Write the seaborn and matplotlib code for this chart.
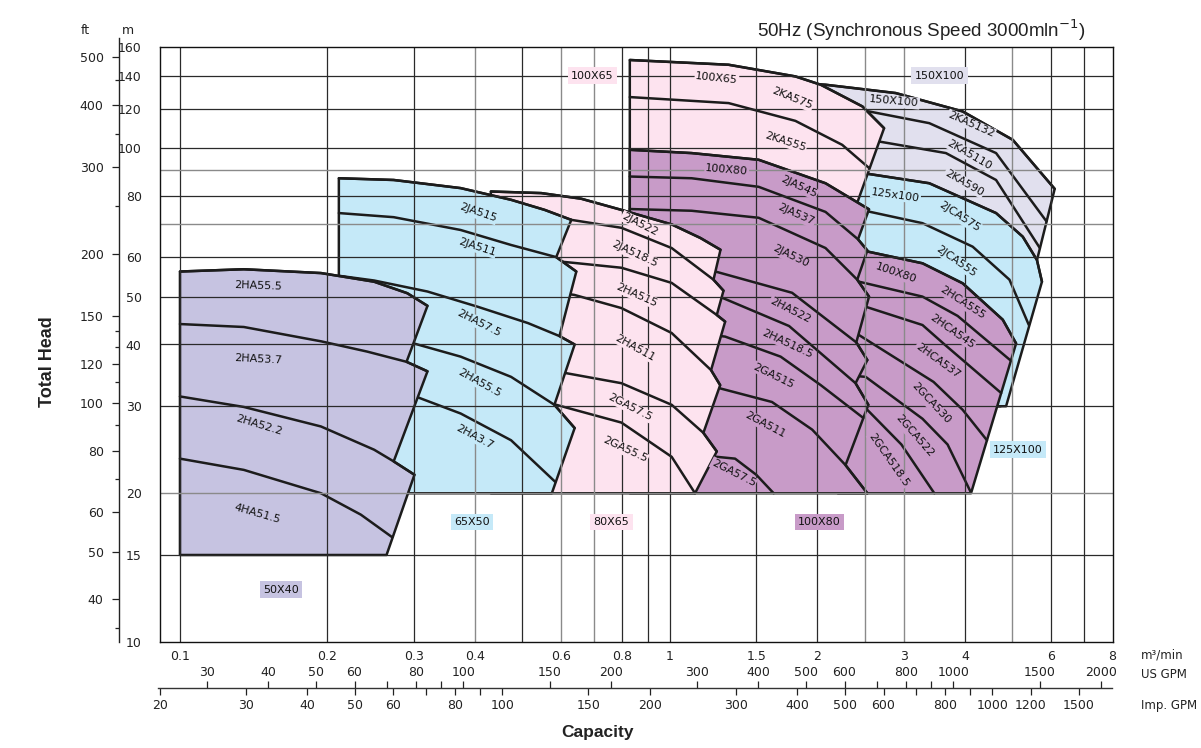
import matplotlib
matplotlib.use("Agg")
import matplotlib.pyplot as plt
import pandas as pd
import seaborn as sns
from matplotlib.ticker import FixedLocator, FixedFormatter, NullLocator, NullFormatter

sns.set_theme(style="white", context="notebook")
plt.rcParams["font.family"] = ["DejaVu Sans"]

# ------------------------------------------------------------------ data
# capacity Q in m3/min, head H in m ; one list per impeller curve (left -> right)

# 150X100 (2KA5132, 2KA5110, 2KA590)
q_150100 = [[2.0, 2.077, 2.888, 3.957, 5.008, 6.097],
            [2.0, 2.548, 3.382, 4.629, 5.866],
            [2.0, 2.671, 3.657, 4.629, 5.686]]
h_150100 = [[134.5, 134.2, 129.1, 118.5, 103.8, 82.6],
            [119.9, 118.5, 112.2, 97.6, 71.0],
            [104.3, 103.0, 97.6, 86.1, 62.7]]
knee_150100 = [0, None, None]
frame_150100 = [2.0, 30, 4.73]

# 125X100 (2JCA575, 2JCA555)
q_125100 = [[2.355, 3.382, 4.629, 5.248, 5.609, 5.743],
            [2.355, 2.548, 3.276, 4.147, 4.93, 5.40]]
h_125100 = [[89.6, 84.8, 73.8, 66.1, 59.3, 53.6],
            [74.9, 74.3, 70.4, 63.1, 54.1, 43.8]]
knee_125100 = [0, None]
frame_125100 = [2.355, 30, 4.852]

# 100X80 CA series
q_100ca = [[2.2, 2.528, 3.276, 3.957, 4.777, 5.086],
           [2.2, 2.431, 3.276, 3.864, 4.961],
           [2.2, 2.508, 3.276, 3.634, 4.742],
           [2.2, 2.431, 3.451, 3.957, 4.435],
           [2.2, 2.508, 3.276, 3.686, 4.11],
           [2.2, 2.470, 2.967, 3.463]]
h_100ca = [[62.1, 61.7, 58.4, 53.2, 44.9, 40.2],
           [53.9, 53.6, 50.0, 45.7, 37.1],
           [48.0, 47.7, 43.8, 40.0, 31.9],
           [42.1, 41.8, 33.6, 29.5, 25.6],
           [34.8, 34.4, 28.3, 25.1, 20.1],
           [30.6, 30.2, 25.1, 20.0]]
knee_100ca = [0, None, None, None, None, None]
frame_100ca = [2.2, 20, 4.115]

# 100X65 (2KA575, 2KA555)
q_10065 = [[0.828, 1.317, 1.803, 2.031, 2.470, 2.735],
           [0.828, 1.317, 1.803, 2.247, 2.55]]
h_10065 = [[150.6, 147.3, 139.5, 134.2, 121.3, 109.6],
           [126.7, 123.2, 113.4, 101.4, 91.0]]
knee_10065 = [0, None]
frame_10065 = [0.828, 70, 2.324]

# 100X80 JA/HA/GA series
q_100ja = [[0.828, 1.107, 1.517, 2.077, 2.548],
           [0.828, 1.107, 1.517, 2.077, 2.420, 2.528],
           [0.828, 1.107, 1.517, 2.077, 2.411, 2.548],
           [0.828, 1.246, 1.775, 2.400, 2.528],
           [0.828, 1.268, 1.750, 2.392, 2.540],
           [0.828, 1.296, 1.682, 2.031, 2.481],
           [0.828, 1.266, 1.615, 1.951, 2.282, 2.528],
           [0.828, 1.246, 1.358, 1.500, 1.628]]
h_100ja = [[99.1, 97.6, 94.6, 84.8, 75.1],
           [87.5, 86.8, 83.4, 74.2, 65.3, 62.0],
           [75.2, 74.6, 72.2, 62.7, 54.1, 50.0],
           [58.8, 56.1, 50.9, 40.4, 37.2],
           [52.1, 49.9, 43.6, 33.4, 30.2],
           [43.8, 41.5, 37.8, 33.1, 28.4],
           [34.7, 32.6, 30.6, 26.9, 22.8, 20.0],
           [24.5, 23.7, 23.5, 21.8, 20.0]]
knee_100ja = [0, 4, 4, 3, 3, None, 4, None]
frame_100ja = [0.828, 20, 2.528]

# 80X65
q_8065 = [[0.431, 0.546, 0.659, 0.796, 1.008, 1.154, 1.268],
          [0.431, 0.629, 0.796, 1.008, 1.227, 1.286],
          [0.431, 0.638, 0.796, 1.008, 1.246, 1.296],
          [0.431, 0.638, 0.796, 1.008, 1.213, 1.266],
          [0.431, 0.614, 0.796, 1.008, 1.170, 1.246],
          [0.431, 0.586, 0.796, 1.008, 1.125]]
h_8065 = [[81.6, 81.0, 78.9, 74.9, 70.0, 65.7, 62.2],
          [74.2, 71.5, 68.9, 62.7, 54.1, 51.4],
          [60.7, 58.5, 57.2, 53.3, 45.9, 44.5],
          [53.3, 50.4, 47.4, 42.2, 35.5, 33.1],
          [37.2, 35.0, 33.4, 30.2, 26.5, 24.3],
          [31.6, 30.2, 27.8, 23.7, 20.0]]
knee_8065 = [0, 4, 4, 4, 4, None]
frame_8065 = [0.431, 20, 1.125]

# 65X50
q_6550 = [[0.211, 0.273, 0.374, 0.474, 0.555, 0.629],
          [0.211, 0.273, 0.374, 0.474, 0.586, 0.644],
          [0.211, 0.249, 0.320, 0.405, 0.513, 0.595, 0.639],
          [0.211, 0.300, 0.374, 0.474, 0.581, 0.639],
          [0.211, 0.305, 0.374, 0.474, 0.583]]
h_6550 = [[86.8, 86.1, 82.9, 78.5, 74.9, 71.5],
          [73.8, 72.4, 68.2, 63.6, 60.1, 56.2],
          [55.1, 53.9, 51.2, 47.7, 44.2, 41.6, 40.0],
          [42.8, 40.2, 37.8, 34.4, 30.2, 27.1],
          [33.1, 31.3, 29.0, 25.6, 21.1]]
knee_6550 = [0, 4, 5, 4, None]
frame_6550 = [0.211, 20, 0.574]

# 50X40
q_5040 = [[0.1, 0.135, 0.194, 0.249, 0.291, 0.320],
          [0.1, 0.135, 0.194, 0.241, 0.290, 0.320],
          [0.1, 0.135, 0.194, 0.249, 0.273, 0.301],
          [0.1, 0.135, 0.194, 0.234, 0.271]]
h_5040 = [[56.2, 56.8, 55.8, 53.6, 50.8, 47.9],
          [44.0, 43.4, 40.6, 38.7, 36.9, 35.3],
          [31.4, 29.9, 27.3, 24.5, 23.2, 21.8],
          [23.5, 22.3, 20.0, 18.1, 16.3]]
knee_5040 = [0, 4, 4, None]
frame_5040 = [0.1, 15, 0.264]

# ---- in-band labels
lab_150100 = ["150X100", "2KA5132", "2KA5110", "2KA590"]
lq_150100 = [2.866, 4.115, 4.084, 3.988]
lh_150100 = [124.1, 111.5, 96.8, 85.0]
lr_150100 = [-5, -24, -30, -30]

lab_125100 = ["125x100", "2JCA575", "2JCA555"]
lq_125100 = [2.888, 3.896, 3.834]
lh_125100 = [80.3, 72.6, 59.0]
lr_125100 = [-8, -33, -35]

lab_100ca = ["100X80", "2HCA555", "2HCA545", "2HCA537", "2GCA530", "2GCA522", "2GCA518.5"]
lq_100ca = [2.888, 3.957, 3.774, 3.516, 3.407, 3.151, 2.800]
lh_100ca = [55.8, 48.6, 42.6, 37.0, 30.4, 26.1, 23.4]
lr_100ca = [-19, -33, -35, -36, -47, -49, -55]

lab_10065 = ["100X65", "2KA575", "2KA555"]
lq_10065 = [1.246, 1.775, 1.720]
lh_10065 = [138.4, 125.8, 103.0]
lr_10065 = [-6, -22, -18]

lab_100ja = ["100X80", "2JA545", "2JA537", "2JA530", "2HA522", "2HA518.5", "2GA515", "2GA511", "2GA57.5"]
lq_100ja = [1.306, 1.831, 1.809, 1.760, 1.760, 1.733, 1.628, 1.565, 1.348]
lh_100ja = [90.3, 83.5, 73.2, 60.3, 46.8, 40.2, 34.6, 27.5, 22.0]
lr_100ja = [-5, -25, -24, -26, -27, -25, -26, -28, -27]

lab_8065 = ["2JA522", "2JA518.5", "2HA515", "2HA511", "2GA57.5", "2GA55.5"]
lq_8065 = [0.868, 0.848, 0.854, 0.848, 0.828, 0.809]
lh_8065 = [70.0, 61.0, 50.4, 39.4, 29.9, 24.5]
lr_8065 = [-27, -25, -24, -29, -27, -25]

lab_6550 = ["2JA515", "2JA511", "2HA57.5", "2HA55.5", "2HA3.7"]
lq_6550 = [0.405, 0.404, 0.408, 0.408, 0.399]
lh_6550 = [73.8, 63.0, 44.2, 33.5, 26.0]
lr_6550 = [-19, -18, -27, -29, -28]

lab_5040 = ["2HA55.5", "2HA53.7", "2HA52.2", "4HA51.5"]
lq_5040 = [0.1447, 0.1447, 0.1447, 0.1436]
lh_5040 = [52.6, 37.4, 27.5, 18.2]
lr_5040 = [-2, -3, -17, -16]

# ---- size labels outside
size_text = ["50X40", "65X50", "80X65", "100X80", "125X100", "100X65", "150X100"]
size_q = [0.1606, 0.3944, 0.760, 2.02, 5.13, 0.695, 3.55]
size_h = [12.77, 17.5, 17.5, 17.5, 24.5, 140, 140]

# ---- axes ticks
x_ticks = [0.1, 0.2, 0.3, 0.4, 0.6, 0.8, 1, 1.5, 2, 3, 4, 6, 8]
x_tick_labels = ["0.1", "0.2", "0.3", "0.4", "0.6", "0.8", "1", "1.5", "2", "3", "4", "6", "8"]
y_ticks = [10, 15, 20, 30, 40, 50, 60, 80, 100, 120, 140, 160]
grid_x_dark = [0.1, 0.2, 0.3, 0.5, 0.8, 0.9, 1, 1.5, 2, 4, 6, 7]
grid_x_grey = [0.4, 0.6, 0.7, 2.5, 3, 5]
grid_y_dark = [15, 30, 40, 50, 60, 80, 100, 120, 140]
grid_y_grey = [20, 70, 90]
ft_major = [40, 50, 60, 80, 100, 120, 150, 200, 300, 400, 500]
ft_minor = [35, 70, 90, 110, 130, 140, 250, 350, 450]
us_major = [30, 40, 50, 60, 80, 100, 150, 200, 300, 400, 500, 600, 800, 1000, 1500, 2000]
us_minor = [70, 90, 700, 900]
imp_major = [20, 30, 40, 50, 60, 80, 100, 150, 200, 300, 400, 500, 600, 800, 1000, 1200, 1500]
imp_minor = [70, 90, 700, 900]

M_TO_FT = 3.28084
US_PER_M3 = 264.172
IMP_PER_M3 = 219.969

# ------------------------------------------------------------------ style
C_LAV = "#c6c3e1"
C_BLUE = "#c5e9f8"
C_PINK = "#fde3ef"
C_PURP = "#c89bc8"
C_PALE = "#e1e0ee"
INK = "#1c1c1c"
LW = 1.8

W, H = 1201, 748
fig = plt.figure(figsize=(W / 100, H / 100), dpi=100, facecolor="white")

XMIN, XMAX = 20 / IMP_PER_M3, 8
YMIN, YMAX = 10, 160
x0, x1 = 159.7, 1112.5
y_bot, y_top = 642, 47
ax = fig.add_axes([x0 / W, 1 - y_bot / H, (x1 - x0) / W, (y_bot - y_top) / H])
ax.set_xscale("log")
ax.set_yscale("log")
ax.set_facecolor("white")

families = [
    (q_150100, h_150100, knee_150100, frame_150100, C_PALE, lab_150100, lq_150100, lh_150100, lr_150100),
    (q_125100, h_125100, knee_125100, frame_125100, C_BLUE, lab_125100, lq_125100, lh_125100, lr_125100),
    (q_100ca, h_100ca, knee_100ca, frame_100ca, C_PURP, lab_100ca, lq_100ca, lh_100ca, lr_100ca),
    (q_10065, h_10065, knee_10065, frame_10065, C_PINK, lab_10065, lq_10065, lh_10065, lr_10065),
    (q_100ja, h_100ja, knee_100ja, frame_100ja, C_PURP, lab_100ja, lq_100ja, lh_100ja, lr_100ja),
    (q_8065, h_8065, knee_8065, frame_8065, C_PINK, lab_8065, lq_8065, lh_8065, lr_8065),
    (q_6550, h_6550, knee_6550, frame_6550, C_BLUE, lab_6550, lq_6550, lh_6550, lr_6550),
    (q_5040, h_5040, knee_5040, frame_5040, C_LAV, lab_5040, lq_5040, lh_5040, lr_5040),
]


def outline(qs, hs, knees, frame):
    q_left, h_bottom, q_corner = frame
    px, py = [q_left], [h_bottom]
    for q, h, k in zip(qs, hs, knees):
        if k is None:
            continue
        px += q[k:]
        py += h[k:]
    px.append(q_corner)
    py.append(h_bottom)
    return px, py


for i, (qs, hs, knees, frame, col, labs, lq, lh, lr) in enumerate(families):
    z = 1.0 + 0.02 * i
    px, py = outline(qs, hs, knees, frame)
    ax.fill(px, py, facecolor=col, edgecolor=INK, linewidth=LW, zorder=z,
            joinstyle="round")
    rows = []
    for j, (q, h) in enumerate(zip(qs, hs)):
        for k, (a, b) in enumerate(zip(q, h)):
            rows.append({"Q": a, "H": b, "curve": j, "order": k})
    df = pd.DataFrame(rows)
    sns.lineplot(data=df, x="Q", y="H", units="curve", estimator=None, sort=False,
                 color=INK, linewidth=LW, ax=ax, zorder=z + 0.01, legend=False,
                 solid_joinstyle="round", solid_capstyle="round")
    for s, a, b, r in zip(labs, lq, lh, lr):
        ax.text(a, b, s, rotation=r, rotation_mode="anchor", ha="center", va="center",
                fontsize=8, color="#111111", zorder=3,
                bbox=dict(boxstyle="square,pad=0.08", fc=col, ec="none"))

# grid on top of the fills
for v in grid_x_dark:
    ax.axvline(v, color="#2a2a2a", lw=0.9, zorder=1.6)
for v in grid_x_grey:
    ax.axvline(v, color="#8a8a8a", lw=1.0, zorder=1.6)
for v in grid_y_dark:
    ax.axhline(v, color="#2a2a2a", lw=0.9, zorder=1.6)
for v in grid_y_grey:
    ax.axhline(v, color="#8a8a8a", lw=1.0, zorder=1.6)

size_cols = [C_LAV, C_BLUE, C_PINK, C_PURP, C_BLUE, C_PINK, C_PALE]
for s, a, b, c in zip(size_text, size_q, size_h, size_cols):
    ax.text(a, b, s, ha="center", va="center", fontsize=8, color="#111111", zorder=3.5,
            bbox=dict(boxstyle="square,pad=0.3", fc=c, ec="none"))

ax.set_xlim(XMIN, XMAX)
ax.set_ylim(YMIN, YMAX)
ax.set_xlabel("")
ax.set_ylabel("")
ax.xaxis.set_major_locator(FixedLocator(x_ticks))
ax.xaxis.set_major_formatter(FixedFormatter(x_tick_labels))
ax.xaxis.set_minor_locator(NullLocator())
ax.yaxis.set_major_locator(FixedLocator(y_ticks))
ax.yaxis.set_major_formatter(FixedFormatter([str(v) for v in y_ticks]))
ax.yaxis.set_minor_locator(NullLocator())
ax.tick_params(axis="both", which="both", length=0, labelsize=9, colors="#222222")
ax.tick_params(axis="x", pad=6)
ax.tick_params(axis="y", pad=13)
for sp in ax.spines.values():
    sp.set_color("#111111")
    sp.set_linewidth(1.0)
    sp.set_zorder(4)

# ---- ft axis
ft_top_px = 38
ax_ft = fig.add_axes([119 / W, 1 - y_bot / H, 0.0001, (y_bot - ft_top_px) / H])
ax_ft.set_yscale("log")
ax_ft.set_ylim(YMIN * M_TO_FT, YMIN * 2 ** ((y_bot - ft_top_px) / 148.75) * M_TO_FT)
ax_ft.patch.set_visible(False)
ax_ft.set_xticks([])
for name, sp in ax_ft.spines.items():
    sp.set_visible(name == "left")
ax_ft.spines["left"].set_color("#222222")
ax_ft.spines["left"].set_linewidth(1.0)
ax_ft.yaxis.set_major_locator(FixedLocator(ft_major))
ax_ft.yaxis.set_major_formatter(FixedFormatter([str(v) for v in ft_major]))
ax_ft.yaxis.set_minor_locator(FixedLocator(ft_minor))
ax_ft.yaxis.set_minor_formatter(NullFormatter())
ax_ft.tick_params(axis="y", which="major", left=True, direction="out", length=5,
                  width=0.9, pad=6, labelsize=9, colors="#222222")
ax_ft.tick_params(axis="y", which="minor", left=True, direction="out", length=2.6,
                  width=0.9, colors="#222222")

# ---- GPM axes
gpm_y = 688
ax_us = fig.add_axes([x0 / W, 1 - gpm_y / H, (x1 - x0) / W, 0.0001])
ax_us.set_xscale("log")
ax_us.set_xlim(XMIN * US_PER_M3, XMAX * US_PER_M3)
ax_us.patch.set_visible(False)
ax_us.set_yticks([])
for sp in ax_us.spines.values():
    sp.set_visible(False)
ax_us.xaxis.set_major_locator(FixedLocator(us_major))
ax_us.xaxis.set_major_formatter(FixedFormatter([str(v) for v in us_major]))
ax_us.xaxis.set_minor_locator(FixedLocator(us_minor))
ax_us.xaxis.set_minor_formatter(NullFormatter())
ax_us.tick_params(axis="x", which="both", top=True, bottom=False, labeltop=True,
                  labelbottom=False, direction="out", length=5, width=0.9, pad=1.5,
                  labelsize=9, colors="#222222")

ax_imp = fig.add_axes([x0 / W - 1.5 / W, 1 - gpm_y / H, (x1 - x0) / W + 1.5 / W, 0.0001])
ax_imp.set_xscale("log")
ax_imp.set_xlim(XMIN * IMP_PER_M3 * 2 ** (-1.5 / 147.5), XMAX * IMP_PER_M3)
ax_imp.patch.set_visible(False)
ax_imp.set_yticks([])
for name, sp in ax_imp.spines.items():
    sp.set_visible(name == "bottom")
ax_imp.spines["bottom"].set_color("#333333")
ax_imp.spines["bottom"].set_linewidth(1.0)
ax_imp.xaxis.set_major_locator(FixedLocator(imp_major))
ax_imp.xaxis.set_major_formatter(FixedFormatter([str(v) for v in imp_major]))
ax_imp.xaxis.set_minor_locator(FixedLocator(imp_minor))
ax_imp.xaxis.set_minor_formatter(NullFormatter())
ax_imp.tick_params(axis="x", which="both", bottom=True, top=False, labelbottom=True,
                   direction="out", length=5, width=0.9, pad=3, labelsize=9,
                   colors="#222222")

# ---- texts
fig.text(1085 / W, 1 - 30 / H, "50Hz (Synchronous Speed 3000mln$^{-1}$)",
         ha="right", va="center", fontsize=13.5, family=["Liberation Sans", "DejaVu Sans"],
         color="#222222")
fig.text(48 / W, 1 - 362 / H, "Total Head", rotation=90, ha="center", va="center",
         fontsize=13, fontweight="bold", family=["Liberation Sans", "DejaVu Sans"],
         color="#222222")
fig.text(598 / W, 1 - 733 / H, "Capacity", ha="center", va="center",
         fontsize=12.5, fontweight="bold", family=["Liberation Sans", "DejaVu Sans"],
         color="#222222")
fig.text(85 / W, 1 - 30 / H, "ft", ha="center", va="center", fontsize=9, color="#222222")
fig.text(128 / W, 1 - 31 / H, "m", ha="center", va="center", fontsize=9, color="#222222")
fig.text(1141 / W, 1 - 655 / H, "m³/min", ha="left", va="center", fontsize=8.5, color="#222222")
fig.text(1141 / W, 1 - 675 / H, "US GPM", ha="left", va="center", fontsize=8.5, color="#222222")
fig.text(1141 / W, 1 - 705 / H, "Imp. GPM", ha="left", va="center", fontsize=8.5, color="#222222")

fig.savefig("out.png", dpi=100, facecolor="white")
